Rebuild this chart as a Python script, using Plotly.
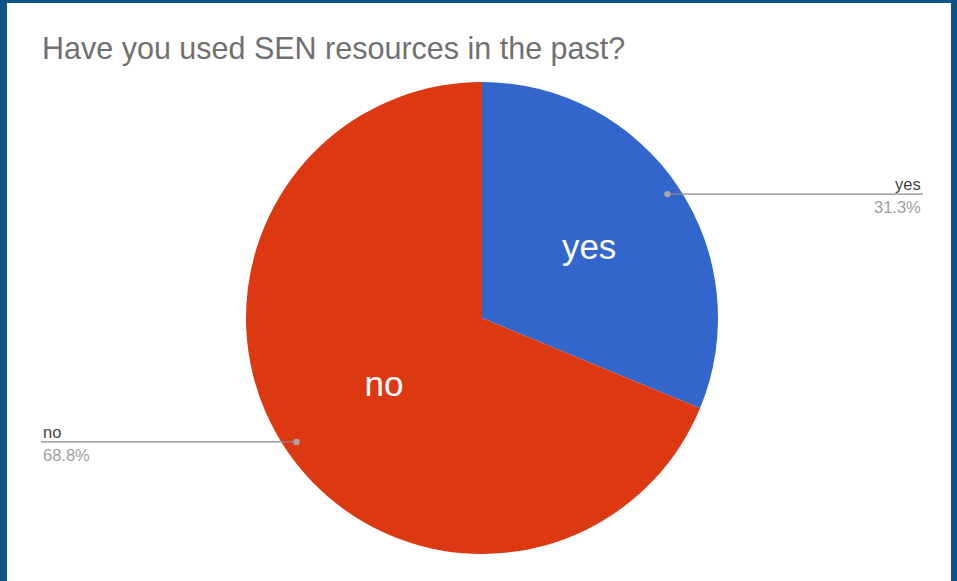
import math
import plotly.graph_objects as go

# ---- data ----
title_text = "Have you used SEN resources in the past?"
labels = ["yes", "no"]
counts = [5, 11]
colors = ["#3366cc", "#dc3912"]

W, H = 957, 581
cx, cy, R = 482, 318, 236  # pixel geometry of pie
FONT = "Liberation Sans, Arial, sans-serif"


def pct(x):
    return f"{math.floor(x * 1000 + 0.5) / 10:.1f}%"


fig = go.Figure()
fig.add_trace(go.Pie(
    labels=labels, values=counts, sort=False, direction="clockwise", rotation=0,
    marker=dict(colors=colors, line=dict(width=0)),
    textinfo="label", textposition="inside", insidetextorientation="horizontal",
    textfont=dict(family=FONT, size=35, color="white"),
    domain=dict(x=[(cx - R) / W, (cx + R) / W], y=[(H - cy - R) / H, (H - cy + R) / H]),
    hoverinfo="skip", showlegend=False,
))

shapes = [
    dict(type="rect", xref="x", yref="y", x0=7, x1=951, y0=3, y1=H + 5,
         fillcolor="white", line=dict(width=0), layer="below"),
]
annotations = [
    dict(text=title_text, xref="x", yref="y", x=40, y=48, xanchor="left", yanchor="middle",
         showarrow=False, font=dict(family=FONT, size=30.5, color="#707070")),
]

total = sum(counts)
start = 0.0
for lab, v in zip(labels, counts):
    frac = v / total
    mid = (start + frac / 2) * 2 * math.pi
    start += frac
    dx = math.sin(mid) * R * 0.945
    dy = -math.cos(mid) * R * 0.945
    px, py = cx + dx, cy + dy
    right = dx > 0
    xe = 923 if right else 41
    shapes.append(dict(type="line", xref="x", yref="y", x0=px, x1=xe, y0=py, y1=py,
                       line=dict(color="#8a8a8a", width=1.2)))
    shapes.append(dict(type="circle", xref="x", yref="y", x0=px - 3.2, x1=px + 3.2, y0=py - 3.2, y1=py + 3.2,
                       fillcolor="#a6a6a6", line=dict(width=0)))
    anchor = "right" if right else "left"
    annotations.append(dict(text=lab, xref="x", yref="y", x=xe, y=py - 10, xanchor=anchor, yanchor="middle",
                            showarrow=False, font=dict(family=FONT, size=16.5, color="#444444")))
    annotations.append(dict(text=pct(frac), xref="x", yref="y", x=xe, y=py + 13, xanchor=anchor, yanchor="middle",
                            showarrow=False, font=dict(family=FONT, size=16.5, color="#9e9e9e")))

fig.update_layout(
    width=W, height=H, margin=dict(l=0, r=0, t=0, b=0),
    paper_bgcolor="#0c5485", plot_bgcolor="rgba(0,0,0,0)",
    xaxis=dict(range=[0, W], visible=False, fixedrange=True),
    yaxis=dict(range=[H, 0], visible=False, fixedrange=True),
    shapes=shapes, annotations=annotations,
)
fig.write_html("out.html", post_script="document.body.style.margin='0';", config={"displayModeBar": False})
